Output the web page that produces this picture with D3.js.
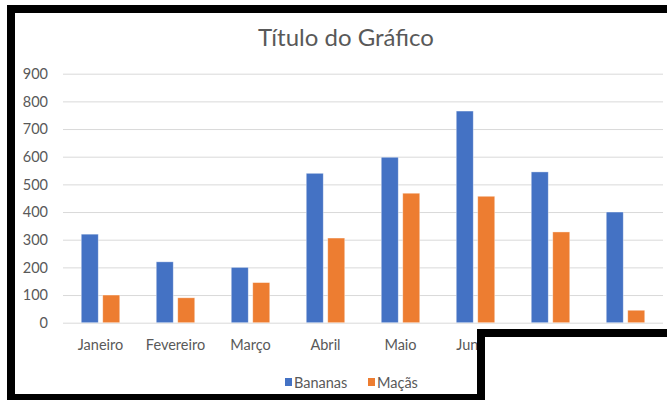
<!DOCTYPE html>
<html>
<head>
<meta charset="utf-8">
<script src="https://cdn.jsdelivr.net/npm/d3@7"></script>
<style>
  body { margin: 0; background: #fff; }
  svg { display: block; font-family: Lato, "Open Sans", sans-serif; }
</style>
</head>
<body>
<svg width="667" height="400"></svg>
<script>
const months = ['Janeiro', 'Fevereiro', 'Março', 'Abril', 'Maio', 'Junho', 'Julho', 'Agosto'];
const series = ['Bananas', 'Maçãs'];
const bananas = [320, 220, 200, 540, 598, 765, 545, 400];
const macas = [100, 90, 145, 306, 468, 457, 328, 45];
const yTicks = [0, 100, 200, 300, 400, 500, 600, 700, 800, 900];
const colors = ['#4472C4', '#ED7D31'];

const rows = months.map((m, i) => ({ month: m, values: [bananas[i], macas[i]] }));

var svg = d3.select('svg');

var x0 = d3.scaleBand().domain(months).range([63, 663]);
var x1 = d3.scaleBand().domain(series).range([0, x0.bandwidth()])
    .paddingInner(0.209).paddingOuter(0.849);
var y = d3.scaleLinear().domain([0, 900]).range([322.7, 73.7]);
var color = d3.scaleOrdinal().domain(series).range(colors);

// title
svg.append('text')
    .attr('x', 346).attr('y', 46)
    .attr('text-anchor', 'middle')
    .attr('font-size', 24)
    .attr('fill', '#595959')
    .text('Título do Gráfico');

// grid + y labels
var yAxis = svg.append('g')
    .attr('transform', 'translate(63,0)')
    .call(d3.axisLeft(y).tickValues(yTicks).tickSize(-600).tickPadding(15));
yAxis.select('.domain').remove();
yAxis.selectAll('line').attr('stroke', '#d9d9d9');
yAxis.selectAll('text').attr('fill', '#595959').attr('font-size', 14.5).attr('font-family', 'Lato, sans-serif');

// month labels
var xAxis = svg.append('g')
    .attr('transform', 'translate(0,322.7)')
    .call(d3.axisBottom(x0).tickSize(0).tickPadding(17));
xAxis.select('.domain').remove();
xAxis.selectAll('text').attr('fill', '#595959').attr('font-size', 14.5).attr('font-family', 'Lato, sans-serif');

// bars
var groups = svg.append('g').selectAll('g')
    .data(rows)
    .enter().append('g')
      .attr('transform', function(d) { return 'translate(' + x0(d.month) + ',0)'; });

groups.selectAll('rect')
    .data(function(d) { return d.values.map((v, i) => ({ key: series[i], value: v })); })
    .enter().append('rect')
      .attr('x', function(d) { return x1(d.key); })
      .attr('y', function(d) { return y(d.value); })
      .attr('width', x1.bandwidth())
      .attr('height', function(d) { return y(0) - y(d.value); })
      .attr('fill', function(d) { return color(d.key); })
      .attr('stroke', '#fff')
      .attr('stroke-opacity', 0.5)
      .attr('stroke-width', 0.75);

// legend
var legendX = [285, 368];
var legend = svg.append('g').selectAll('g')
    .data(series)
    .enter().append('g')
      .attr('transform', function(d, i) { return 'translate(' + legendX[i] + ',378)'; });
legend.append('rect')
    .attr('width', 7).attr('height', 8)
    .attr('fill', function(d) { return color(d); });
legend.append('text')
    .attr('x', 9).attr('y', 9.5)
    .attr('font-size', 14.5)
    .attr('fill', '#595959')
    .text(function(d) { return d; });

// black frame pieces over the chart
var frame = [
  [7, 5, 660, 8],
  [7, 5, 8, 395],
  [7, 394, 478, 6],
  [477, 329, 190, 8],
  [477, 329, 8, 71]
];
svg.append('rect')
    .attr('x', 485).attr('y', 337).attr('width', 182).attr('height', 63)
    .attr('fill', '#fff');
svg.append('g').selectAll('rect')
    .data(frame)
    .enter().append('rect')
      .attr('x', function(d) { return d[0]; })
      .attr('y', function(d) { return d[1]; })
      .attr('width', function(d) { return d[2]; })
      .attr('height', function(d) { return d[3]; })
      .attr('fill', '#000');
</script>
</body>
</html>
